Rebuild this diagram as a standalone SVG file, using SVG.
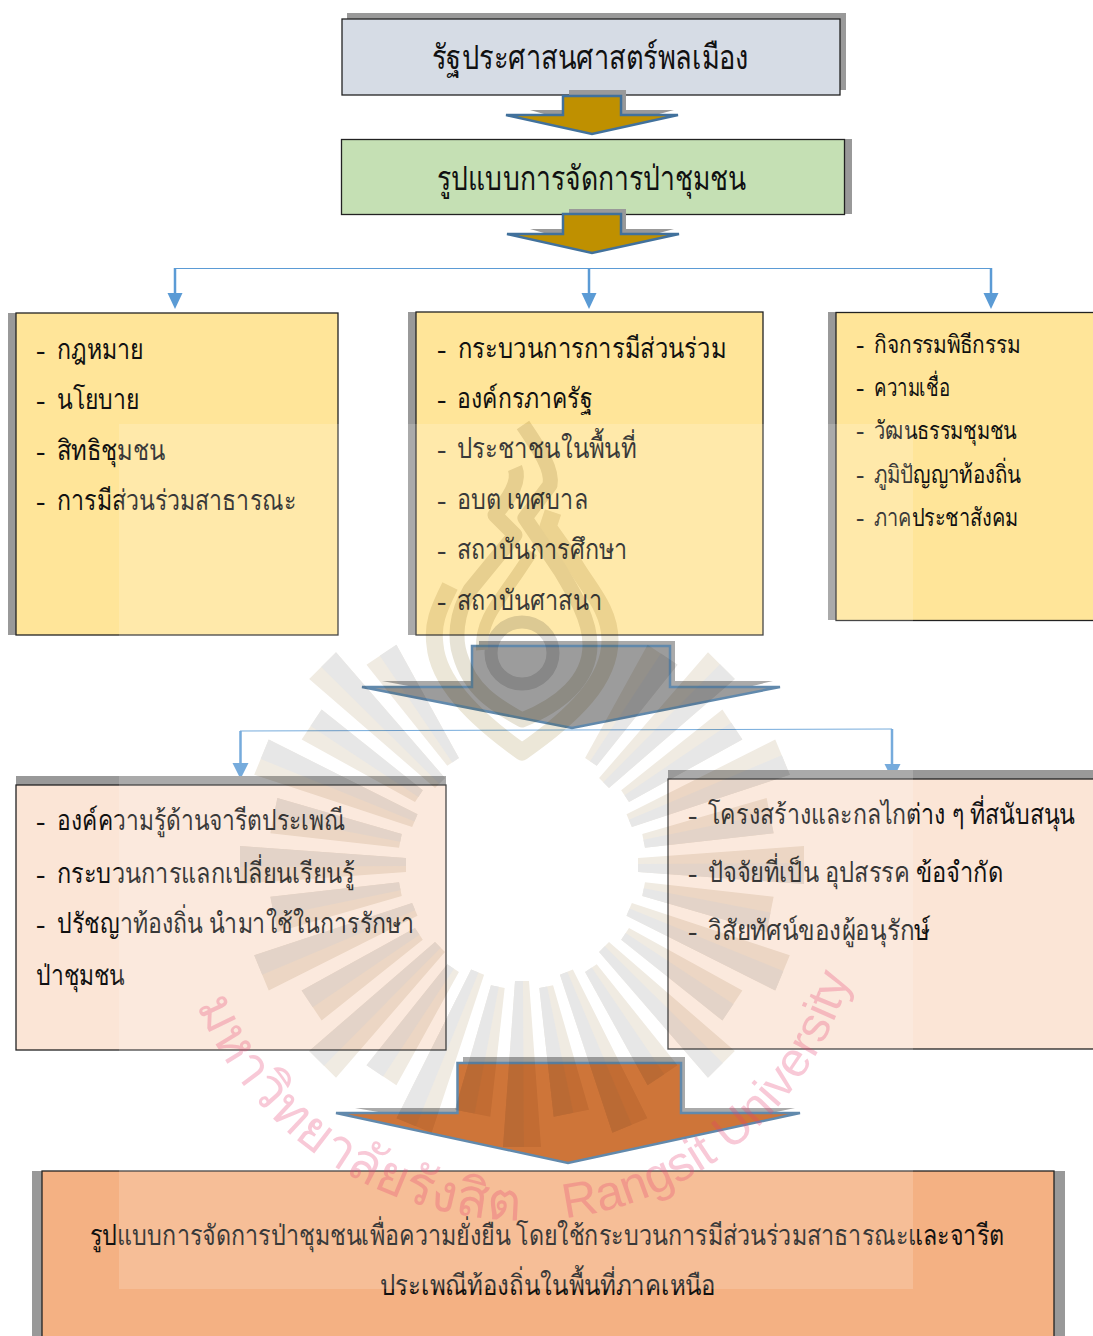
<svg xmlns="http://www.w3.org/2000/svg" xmlns:xlink="http://www.w3.org/1999/xlink" width="1093" height="1336" viewBox="0 0 1093 1336">
<style>
text{font-family:"Liberation Serif","DejaVu Serif","Noto Sans",serif;fill:#111}
.box{stroke:#222;stroke-width:1.3}
.sh{fill:#999}
.ar{stroke:#41719c;stroke-width:2.5;stroke-linejoin:miter}
.l{font-size:28px}.m{font-size:25px}.t{font-size:34px}
.cn{stroke:#5b9bd5;fill:none}
.wm{font-family:"Liberation Sans",sans-serif;fill:#e63c6e;fill-opacity:.28}
</style>
<defs>
<g id="rl"><polygon points="-7,116 7,116 19,282 -19,282" fill="#f0ebe2"/><polygon points="-7,116 1,116 2,282 -19,282" fill="#e7e7e7"/></g>
<g id="rs"><polygon points="-7,124 7,124 18,253 -18,253" fill="#f0ebe2"/><polygon points="-7,124 1,124 2,253 -18,253" fill="#e7e7e7"/></g>
<path id="arcT" d="M196,1005 A355 355 0 0 0 540,1220"/>
<path id="arcE" d="M565,1218 A340 340 0 0 0 858,945"/>
</defs>
<rect width="1093" height="1336" fill="#fff"/>
<g id="node-top">
<rect class="sh" x="347" y="13" width="499" height="77"/>
<rect class="box" x="342" y="19" width="498" height="76" fill="#d6dce5"/>
<text class="t" x="432" y="69" textLength="317" lengthAdjust="spacingAndGlyphs">รัฐประศาสนศาสตร์พลเมือง</text>
</g>
<g id="arrow-1">
<path class="sh" d="M569 90H626V110H674L600 130 530 110H569Z"/>
<path class="ar" fill="#bf9000" d="M563 96H621V115H678L592 134 506 115H563Z"/>
</g>
<g id="node-model">
<rect class="sh" x="349" y="139" width="503" height="75"/>
<rect class="box" x="341.500" y="139.500" width="503" height="75" fill="#c5e0b4"/>
<text class="t" x="437" y="190" textLength="309" lengthAdjust="spacingAndGlyphs">รูปแบบการจัดการป่าชุมชน</text>
</g>
<g id="arrow-2">
<path class="sh" d="M569 209H626V229H674L600 249 530 229H569Z"/>
<path class="ar" fill="#bf9000" d="M563 214H621V234H679L592 253 507 234H563Z"/>
</g>
<g id="connectors">
<path class="cn" d="M175 268.500H991"/>
<path class="cn" stroke-width="2.500" d="M175 268V294M589 268V294M991 268V294"/>
<path d="M167.500 293H182.500L175 309ZM581.500 293H596.500L589 309ZM983.500 293H998.500L991 309Z" fill="#5b9bd5"/>
<path class="cn" d="M240 731L892 729"/>
<path class="cn" stroke-width="2.500" d="M240.500 731V763M892 729V764"/>
<path d="M232.500 763H248.500L240.500 779ZM884.500 764H900.500L892.500 780Z" fill="#5b9bd5"/>
</g>
<g id="node-law">
<rect class="sh" x="8" y="313" width="20" height="322"/>
<rect class="box" x="16" y="313" width="322" height="322" fill="#ffe599"/>
<g class="l">
<text x="36" y="359">-</text><text x="57" y="359" textLength="86" lengthAdjust="spacingAndGlyphs">กฎหมาย</text>
<text x="36" y="409">-</text><text x="57" y="409" textLength="82" lengthAdjust="spacingAndGlyphs">นโยบาย</text>
<text x="36" y="460">-</text><text x="57" y="460" textLength="108" lengthAdjust="spacingAndGlyphs">สิทธิชุมชน</text>
<text x="36" y="510">-</text><text x="57" y="510" textLength="239" lengthAdjust="spacingAndGlyphs">การมีส่วนร่วมสาธารณะ</text>
</g>
</g>
<g id="node-process">
<rect class="sh" x="408" y="312" width="20" height="323"/>
<rect class="box" x="416" y="312" width="347" height="323" fill="#ffe599"/>
<g class="l">
<text x="437" y="358">-</text><text x="458" y="358" textLength="268" lengthAdjust="spacingAndGlyphs">กระบวนการการมีส่วนร่วม</text>
<text x="437" y="408">-</text><text x="457" y="408" textLength="135" lengthAdjust="spacingAndGlyphs">องค์กรภาครัฐ</text>
<text x="437" y="458">-</text><text x="457" y="458" textLength="179" lengthAdjust="spacingAndGlyphs">ประชาชนในพื้นที่</text>
<text x="437" y="509">-</text><text x="457" y="509" textLength="131" lengthAdjust="spacingAndGlyphs">อบต เทศบาล</text>
<text x="437" y="559">-</text><text x="457" y="559" textLength="170" lengthAdjust="spacingAndGlyphs">สถาบันการศึกษา</text>
<text x="437" y="610">-</text><text x="457" y="610" textLength="145" lengthAdjust="spacingAndGlyphs">สถาบันศาสนา</text>
</g>
</g>
<g id="node-culture">
<rect class="sh" x="828" y="312" width="20" height="308"/>
<rect class="box" x="836" y="312.500" width="262" height="308" fill="#ffe599"/>
<g class="m">
<text x="856" y="353">-</text><text x="874" y="353" textLength="146" lengthAdjust="spacingAndGlyphs">กิจกรรมพิธีกรรม</text>
<text x="856" y="396">-</text><text x="874" y="396" textLength="76" lengthAdjust="spacingAndGlyphs">ความเชื่อ</text>
<text x="856" y="439">-</text><text x="874" y="439" textLength="143" lengthAdjust="spacingAndGlyphs">วัฒนธรรมชุมชน</text>
<text x="856" y="483">-</text><text x="874" y="483" textLength="147" lengthAdjust="spacingAndGlyphs">ภูมิปัญญาท้องถิ่น</text>
<text x="856" y="526">-</text><text x="874" y="526" textLength="144" lengthAdjust="spacingAndGlyphs">ภาคประชาสังคม</text>
</g>
</g>
<g id="arrow-3">
<path class="sh" d="M479 641H675V681H773L600 722 382 681H479Z"/>
<path class="ar" fill="#888" d="M472 646H670V687H780L572 728 362 687H472Z"/>
</g>
<g id="node-knowledge">
<rect class="sh" x="16" y="776" width="430" height="20"/>
<rect class="box" x="16" y="785" width="430" height="265" fill="#fbe5d6"/>
<g class="l">
<text x="36" y="830">-</text><text x="57" y="830" textLength="288" lengthAdjust="spacingAndGlyphs">องค์ความรู้ด้านจารีตประเพณี</text>
<text x="36" y="883">-</text><text x="57" y="883" textLength="298" lengthAdjust="spacingAndGlyphs">กระบวนการแลกเปลี่ยนเรียนรู้</text>
<text x="36" y="933">-</text><text x="57" y="933" textLength="357" lengthAdjust="spacingAndGlyphs">ปรัชญาท้องถิ่น นำมาใช้ในการรักษา</text>
<text x="36" y="985" textLength="89" lengthAdjust="spacingAndGlyphs">ป่าชุมชน</text>
</g>
</g>
<g id="node-structure">
<rect class="sh" x="668" y="770" width="430" height="20"/>
<rect class="box" x="668" y="779" width="430" height="270" fill="#fbe5d6"/>
<g class="l">
<text x="688" y="824">-</text><text x="708" y="824" textLength="367" lengthAdjust="spacingAndGlyphs">โครงสร้างและกลไกต่าง ๆ ที่สนับสนุน</text>
<text x="688" y="882">-</text><text x="708" y="882" textLength="295" lengthAdjust="spacingAndGlyphs">ปัจจัยที่เป็น อุปสรรค ข้อจำกัด</text>
<text x="688" y="940">-</text><text x="708" y="940" textLength="222" lengthAdjust="spacingAndGlyphs">วิสัยทัศน์ของผู้อนุรักษ์</text>
</g>
</g>
<g id="arrow-4">
<path class="sh" d="M463 1057H685V1108H795L600 1150 355 1108H463Z"/>
<path class="ar" fill="#c55a11" d="M457.500 1063H681V1113H800L568 1163 336 1113H457.500Z"/>
</g>
<g id="node-result">
<rect class="sh" x="32" y="1171" width="1033" height="170"/>
<rect class="box" x="42" y="1171" width="1012" height="170" fill="#f4b183"/>
<g class="l">
<text x="90" y="1245" textLength="914" lengthAdjust="spacingAndGlyphs">รูปแบบการจัดการป่าชุมชนเพื่อความยั่งยืน โดยใช้กระบวนการมีส่วนร่วมสาธารณะและจารีต</text>
<text x="380" y="1295" textLength="336" lengthAdjust="spacingAndGlyphs">ประเพณีท้องถิ่นในพื้นที่ภาคเหนือ</text>
</g>
</g>
<g id="watermark">
<rect x="119" y="424" width="794" height="865" fill="#fff" fill-opacity=".17"/>
<g style="mix-blend-mode:multiply">
<g transform="translate(522 865)">
<use href="#rl"/>
<use href="#rs" transform="rotate(11.25)"/><use href="#rl" transform="rotate(22.5)"/><use href="#rs" transform="rotate(33.75)"/><use href="#rl" transform="rotate(45)"/><use href="#rs" transform="rotate(56.25)"/><use href="#rl" transform="rotate(67.5)"/><use href="#rs" transform="rotate(78.75)"/><use href="#rl" transform="rotate(90)"/><use href="#rs" transform="rotate(101.25)"/><use href="#rl" transform="rotate(112.5)"/><use href="#rs" transform="rotate(123.75)"/><use href="#rl" transform="rotate(135)"/><use href="#rs" transform="rotate(146.25)"/>
<use href="#rs" transform="rotate(-11.25)"/><use href="#rl" transform="rotate(-22.5)"/><use href="#rs" transform="rotate(-33.75)"/><use href="#rl" transform="rotate(-45)"/><use href="#rs" transform="rotate(-56.25)"/><use href="#rl" transform="rotate(-67.5)"/><use href="#rs" transform="rotate(-78.75)"/><use href="#rl" transform="rotate(-90)"/><use href="#rs" transform="rotate(-101.25)"/><use href="#rl" transform="rotate(-112.5)"/><use href="#rs" transform="rotate(-123.75)"/><use href="#rl" transform="rotate(-135)"/><use href="#rs" transform="rotate(-146.25)"/>
</g>
<g fill="none" stroke-linecap="butt" stroke-linejoin="round">
<path stroke="#ece7d8" stroke-width="17" d="M450 586C438 610 432 625 435 645C438 680 470 715 522 752C575 715 610 680 610 640C610 610 590 590 575 565L548 527L553 512"/>
<path stroke="#e7e3d6" stroke-width="15" d="M515 468C520 480 512 495 495 515L515 535L470 590C455 615 455 640 460 655C470 690 495 705 522 720C560 705 590 680 590 645C590 620 575 595 560 570L525 518L550 485C553 470 540 450 523 425"/>
<circle cx="522" cy="653" r="31" stroke="#dcdcdc" stroke-width="13"/>
<path stroke="#e9e4d5" stroke-width="12" d="M482 650C480 620 500 600 520 570L532 552"/>
</g>
</g>
<text class="wm" font-size="53.500"><textPath href="#arcT">มหาวิทยาลัยรังสิต</textPath></text>
<text class="wm" font-size="49"><textPath href="#arcE">Rangsit University</textPath></text>
</g>
</svg>
